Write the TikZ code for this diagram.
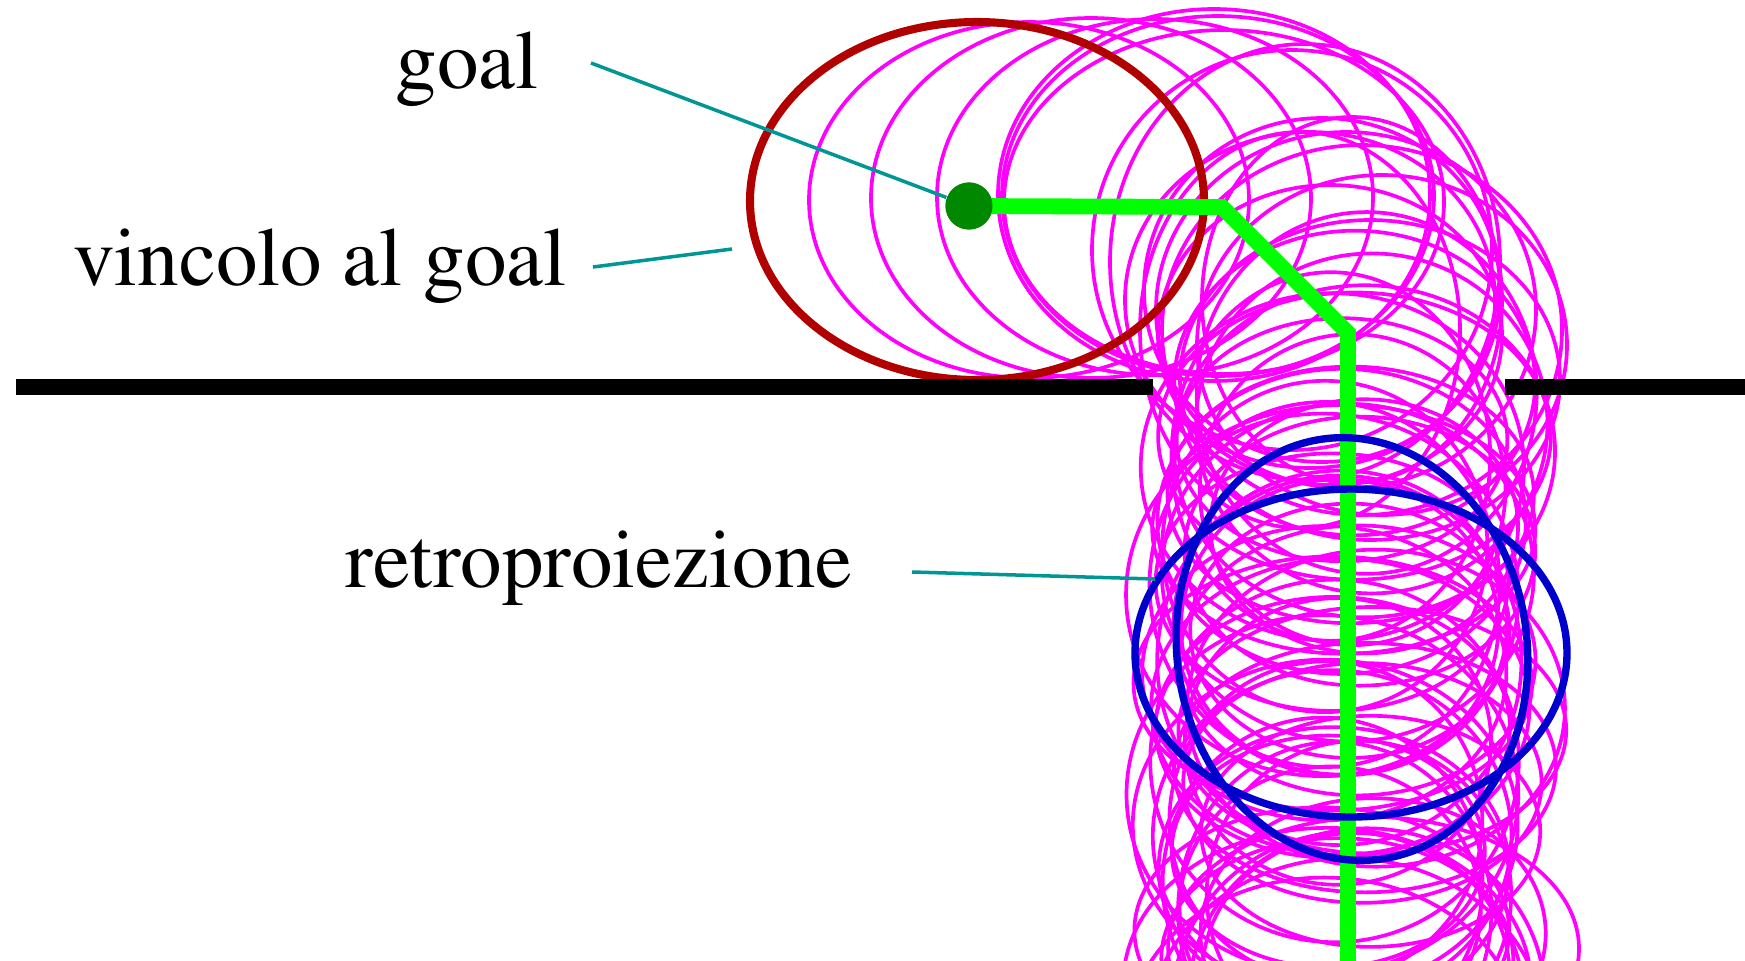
\documentclass[tikz,border=0pt]{standalone}
\usepackage[T1]{fontenc}
\usepackage{times}
\usetikzlibrary{positioning}
\definecolor{goalred}{RGB}{176,0,0}
\definecolor{pathgreen}{RGB}{0,255,0}
\definecolor{dotgreen}{RGB}{0,136,0}
\definecolor{retroblue}{RGB}{0,0,204}
\definecolor{leaderteal}{RGB}{0,150,150}
\definecolor{beliefpink}{RGB}{255,0,255}
\tikzset{
    labeltext/.style = {anchor=base, inner sep=0pt, font=\fontsize{23.6pt}{28pt}\selectfont},
    leader/.style = {draw=leaderteal, line width=1pt},
    belief/.style = {draw=beliefpink, line width=1.05pt},
    wall/.style = {draw=black, line width=4.3pt},
    retro/.style = {draw=retroblue, line width=2.1pt},
    goaldot/.style = {circle, fill=dotgreen, minimum size=0.47cm, inner sep=0pt}
}

\begin{document}
\begin{tikzpicture}[x=0.01cm, y=-0.01cm]
    \useasboundingbox (0,0) rectangle (1745,960);
    \clip (0,0) rectangle (1745,960);

    % Belief ellipses along the horizontal and diagonal part
    \foreach \cx/\cy/\rx/\ry in {1029/200/220/178, 1091/198/220/180, 1155/197/218/178,
        1218/196/216/180, 1224/202/220/172, 1214/195/216/186,
        1305/262/195/218, 1292/250/200/200, 1322/290/178/172, 1346/310/190/178,
        1362/330/200/185, 1382/345/185/170, 1330/335/172/150, 1310/300/185/168,
        1352/300/150/183, 1300/330/160/198, 1370/380/190/160}
        \draw[belief] (\cx,\cy) ellipse [x radius=\rx, y radius=\ry];

    % Belief ellipses along the vertical part
    \pgfmathsetseed{42}
    \foreach \i in {0,...,54} {
        \pgfmathsetmacro\cx{1348+28*rand}
        \pgfmathsetmacro\cy{390+12*\i+12*rand}
        \pgfmathsetmacro\rx{178+28*rand}
        \pgfmathsetmacro\ry{150+35*rand}
        \draw[belief] (\cx,\cy) ellipse [x radius=\rx, y radius=\ry];
    }

    % Goal constraint
    \draw[goalred, line width=2.3pt] (977,201) ellipse [x radius=227, y radius=179];

    % Wall
    \draw[wall] (16,387) -- (1153,387);
    \draw[wall] (1505,387) -- (1745,387);

    % Path to the goal
    \coordinate (bendA) at (1222,207);
    \coordinate (bendB) at (1348,333);
    \coordinate (pathend) at (1348,990);
    \node[goaldot] (goal) at (969,206) {};
    \draw[pathgreen, line width=4.5pt, line join=miter] (goal.center) -- (bendA) -- (bendB) -- (pathend);
    \node[goaldot] at (goal) {};

    % Back projection
    \draw[retro] (1351,653) ellipse [x radius=216, y radius=164];
    \draw[retro, rotate around={8:(1352,649)}] (1352,649) ellipse [x radius=175, y radius=212];

    % Labels
    \node[labeltext] (goallabel) at (467,88) {goal};
    \node[labeltext] (vincololabel) at (320,285) {vincolo al goal};
    \node[labeltext] (retrolabel) at (599,587) {retroproiezione};

    % Leaders
    \coordinate (goalfrom) at (591,63);
    \coordinate (vincolofrom) at (593,267);
    \coordinate (vincoloto) at (732,249);
    \coordinate (retrofrom) at (912,572);
    \coordinate (retroto) at (1155,579);
    \draw[leader] (goalfrom) -- (goal);
    \draw[leader] (vincolofrom) -- (vincoloto);
    \draw[leader] (retrofrom) -- (retroto);
\end{tikzpicture}
\end{document}
